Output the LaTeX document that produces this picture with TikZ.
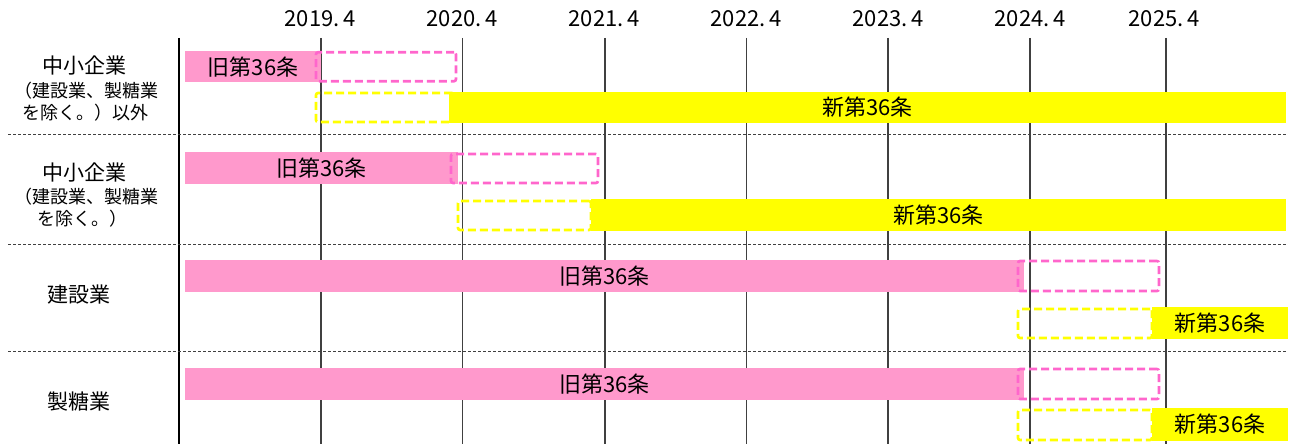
\documentclass[tikz,border=0pt]{standalone}
\usepackage{fontspec}
\setmainfont{Noto Sans CJK JP}
\definecolor{pinkfill}{HTML}{FF99CC}
\definecolor{pinkdash}{HTML}{FF66CC}
\definecolor{ylw}{HTML}{FFFF00}
\definecolor{gridc}{HTML}{404040}
\begin{document}
\begin{tikzpicture}[x=1pt,y=-1pt,
  bar/.style={rectangle, inner sep=0pt, outer sep=0pt, font=\fontsize{22}{24}\selectfont},
  oldbar/.style={bar, fill=pinkfill},
  newbar/.style={bar, fill=ylw},
  olddash/.style={bar, draw=pinkdash, line width=2.6pt, dash pattern=on 8pt off 4pt, rounded corners=2pt},
  newdash/.style={bar, draw=ylw, line width=2.6pt, dash pattern=on 8pt off 4pt, rounded corners=2pt},
  year/.style={inner sep=0pt, font=\fontsize{22}{24}\selectfont},
  bigl/.style={inner sep=0pt, font=\fontsize{21}{23}\selectfont},
  smalll/.style={inner sep=0pt, font=\fontsize{18}{20}\selectfont},
  vline/.style={draw=gridc, line width=1.5pt},
  sep/.style={draw=gridc, line width=1pt, dash pattern=on 3pt off 2pt}
]
\useasboundingbox (0,0) rectangle (1294,444);

% year labels
\node[year] (y19) at (320,18.5) {2019.\,4};
\node[year] (y20) at (462,18.5) {2020.\,4};
\node[year] (y21) at (604,18.5) {2021.\,4};
\node[year] (y22) at (746,18.5) {2022.\,4};
\node[year] (y23) at (888,18.5) {2023.\,4};
\node[year] (y24) at (1030,18.5) {2024.\,4};
\node[year] (y25) at (1164,18.5) {2025.\,4};

% vertical lines
\coordinate (t0) at (179,38);   \coordinate (b0) at (179,444);
\coordinate (t1) at (321,38);   \coordinate (b1) at (321,444);
\coordinate (t2) at (462.5,38); \coordinate (b2) at (462.5,444);
\coordinate (t3) at (605,38);   \coordinate (b3) at (605,444);
\coordinate (t4) at (746.5,38); \coordinate (b4) at (746.5,444);
\coordinate (t5) at (888,38);   \coordinate (b5) at (888,444);
\coordinate (t6) at (1030,38);  \coordinate (b6) at (1030,444);
\coordinate (t7) at (1166,38);  \coordinate (b7) at (1166,444);
\draw[vline, draw=black] (t0) -- (b0);
\foreach \i in {1,...,7} { \draw[vline] (t\i) -- (b\i); }

% separators
\coordinate (s1l) at (8,134); \coordinate (s1r) at (1286,134);
\coordinate (s2l) at (8,244); \coordinate (s2r) at (1286,244);
\coordinate (s3l) at (8,351); \coordinate (s3r) at (1286,351);
\draw[sep] (s1l) -- (s1r);
\draw[sep] (s2l) -- (s2r);
\draw[sep] (s3l) -- (s3r);

% left labels
\node[bigl] (r1a) at (84.5,65.5) {中小企業};
\node[smalll] (r1b) at (86,91) {（建設業、製糖業};
\node[smalll] (r1c) at (85,113) {を除く。）以外};
\node[bigl] (r2a) at (84.5,172.5) {中小企業};
\node[smalll] (r2b) at (86,197) {（建設業、製糖業};
\node[smalll] (r2c) at (82,219) {を除く。）};
\node[bigl] (r3) at (78.5,295) {建設業};
\node[bigl] (r4) at (78.5,402) {製糖業};

% row 1
\node[oldbar, minimum width=136pt, minimum height=31.5pt] (o1) at (253,66.75) {旧第36条};
\node[newbar, minimum width=837pt, minimum height=31pt] (n1) at (867.5,107.5) {新第36条};
\node[olddash, minimum width=140pt, minimum height=29pt] (od1) at (386,66.75) {};
\node[newdash, minimum width=138pt, minimum height=29pt] (nd1) at (385,107.5) {};

% row 2
\node[oldbar, minimum width=273pt, minimum height=32pt] (o2) at (321.5,168) {旧第36条};
\node[newbar, minimum width=695pt, minimum height=32pt] (n2) at (938.5,215) {新第36条};
\node[olddash, minimum width=147pt, minimum height=29pt] (od2) at (524.5,168.5) {};
\node[newdash, minimum width=133pt, minimum height=29pt] (nd2) at (524.5,215.5) {};

% row 3
\node[oldbar, minimum width=839pt, minimum height=32pt] (o3) at (604.5,276) {旧第36条};
\node[newbar, minimum width=136pt, minimum height=32pt] (n3) at (1220,323) {新第36条};
\node[olddash, minimum width=141pt, minimum height=30pt] (od3) at (1088.5,276) {};
\node[newdash, minimum width=134pt, minimum height=29pt] (nd3) at (1085,323.5) {};

% row 4
\node[oldbar, minimum width=839pt, minimum height=32pt] (o4) at (604.5,384) {旧第36条};
\node[newbar, minimum width=136pt, minimum height=33pt] (n4) at (1220,424.5) {新第36条};
\node[olddash, minimum width=141pt, minimum height=30pt] (od4) at (1088.5,384) {};
\node[newdash, minimum width=134pt, minimum height=30pt] (nd4) at (1085,425) {};
\end{tikzpicture}
\end{document}
